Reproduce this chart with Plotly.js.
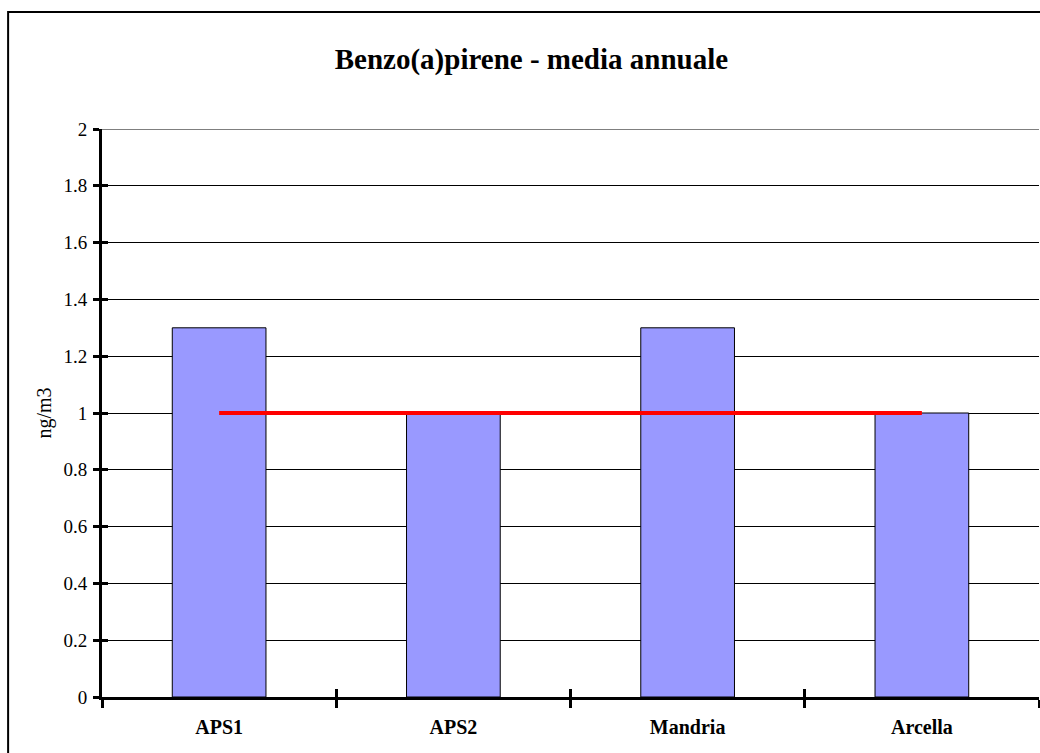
<!DOCTYPE html>
<html>
<head>
<meta charset="utf-8">
<script src="https://cdn.plot.ly/plotly-3.0.1.min.js"></script>
<style>html,body{margin:0;padding:0;background:#fff;}#chart{width:1040px;height:753px;}</style>
</head>
<body>
<div id="chart"></div>
<script>
var categories = ["APS1", "APS2", "Mandria", "Arcella"];
var values = [1.3, 1.0, 1.3, 1.0];
var limitValues = [1, 1, 1, 1];
var yTicks = [0, 0.2, 0.4, 0.6, 0.8, 1, 1.2, 1.4, 1.6, 1.8, 2];
var yTickText = ["0", "0.2", "0.4", "0.6", "0.8", "1", "1.2", "1.4", "1.6", "1.8", "2"];

var serif = "'Liberation Serif', 'Times New Roman', serif";

var traces = [
  {
    type: "bar",
    x: categories,
    y: values,
    marker: {color: "#9999FF", line: {color: "#000000", width: 1}},
    hoverinfo: "x+y",
    showlegend: false
  },
  {
    type: "scatter",
    mode: "lines",
    x: categories,
    y: limitValues,
    line: {color: "#FF0000", width: 4},
    showlegend: false
  },
  {
    type: "scatter",
    mode: "lines",
    x: categories,
    y: limitValues,
    xaxis: "x2",
    yaxis: "y2",
    line: {color: "rgba(0,0,0,0)", width: 0},
    hoverinfo: "skip",
    showlegend: false
  }
];

var layout = {
  width: 1040,
  height: 753,
  margin: {l: 102, r: 1, t: 129, b: 56, pad: 0},
  paper_bgcolor: "#ffffff",
  plot_bgcolor: "#ffffff",
  bargap: 0.6,
  showlegend: false,
  font: {family: serif, color: "#000"},
  title: {
    text: "<b>Benzo(a)pirene - media annuale</b>",
    font: {family: serif, size: 29, color: "#000"},
    x: 0.511, xanchor: "center", xref: "container",
    y: 0.922, yanchor: "middle", yref: "container"
  },
  xaxis: {
    type: "category",
    range: [-0.5, 3.5],
    showgrid: false,
    zeroline: false,
    showline: true,
    linecolor: "#000",
    linewidth: 3,
    ticks: "outside",
    tickson: "boundaries",
    ticklen: 8,
    tickwidth: 3,
    tickcolor: "#000",
    ticklabelstandoff: 10,
    tickfont: {family: serif, size: 20, color: "#000"},
    tickprefix: "<b>", ticksuffix: "</b>",
    fixedrange: true
  },
  yaxis: {
    range: [0, 2],
    tickvals: yTicks,
    ticktext: yTickText,
    showgrid: true,
    gridcolor: "#000",
    gridwidth: 1,
    zeroline: false,
    showline: true,
    linecolor: "#000",
    linewidth: 3,
    ticks: "outside",
    ticklen: 6,
    tickwidth: 3,
    tickcolor: "#000",
    ticklabelstandoff: 2,
    tickfont: {family: serif, size: 19, color: "#000"},
    title: {text: "ng/m3", font: {family: serif, size: 20, color: "#000"}, standoff: 7},
    fixedrange: true
  },
  xaxis2: {
    type: "category",
    overlaying: "x",
    matches: "x",
    range: [-0.5, 3.5],
    showgrid: false,
    zeroline: false,
    showline: false,
    ticks: "inside",
    tickson: "boundaries",
    ticklen: 8,
    tickwidth: 3,
    tickcolor: "#000",
    showticklabels: false,
    anchor: "y"
  },
  yaxis2: {
    overlaying: "y",
    range: [0, 2],
    tickvals: yTicks,
    showgrid: false,
    zeroline: false,
    showline: false,
    ticks: "inside",
    ticklen: 6,
    tickwidth: 3,
    tickcolor: "#000",
    showticklabels: false,
    anchor: "x"
  },
  shapes: [
    {
      type: "line", xref: "paper", yref: "y",
      x0: 0, x1: 1, y0: 2, y1: 2,
      line: {color: "#000", width: 1}, layer: "below"
    },
    {
      type: "rect", xref: "paper", yref: "paper",
      x0: -0.1002, x1: 1.01, y0: -0.2, y1: 1.206,
      line: {color: "#000", width: 2}, fillcolor: "rgba(0,0,0,0)", layer: "above"
    }
  ]
};

Plotly.newPlot("chart", traces, layout, {displayModeBar: false, staticPlot: true});
</script>
</body>
</html>
